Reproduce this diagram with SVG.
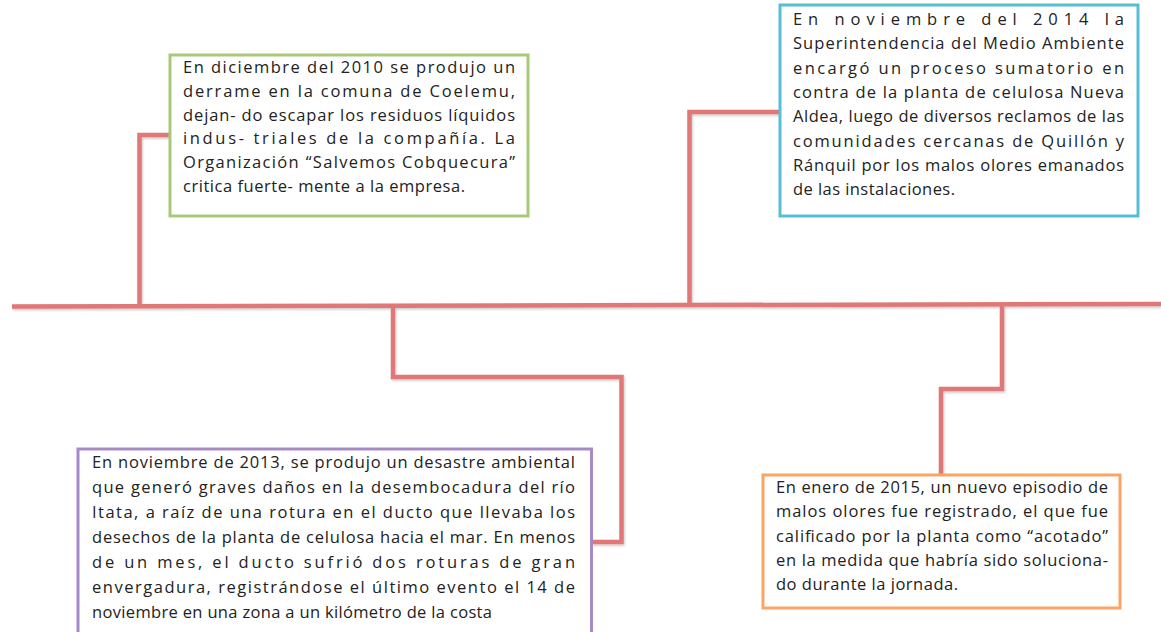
<svg xmlns="http://www.w3.org/2000/svg" width="1161" height="632" viewBox="0 0 1161 632">
<defs>
<filter id="sh" x="-5%" y="-5%" width="110%" height="110%">
<feDropShadow dx="1" dy="1.5" stdDeviation="1" flood-color="#000" flood-opacity="0.22"/>
</filter>
<style>
.ln{fill:none;stroke:#E07878;stroke-width:4.5;stroke-linejoin:miter;stroke-linecap:butt}
.box{fill:#fff;stroke-width:3}
.t{font-family:"Open Sans","Noto Sans","Liberation Sans",sans-serif;font-size:16.5px;fill:#222}
</style>
</defs>
<rect width="1161" height="632" fill="#fff"/>
<g id="connectors" filter="url(#sh)">
<path class="ln" d="M12 306.5 L1161 304"/>
<path class="ln" d="M139.5 306 V135 H170"/>
<path class="ln" d="M689.5 305 V112 H780"/>
<path class="ln" d="M393 305 V377 H621.5 V542 H592"/>
<path class="ln" d="M1002 304.5 V389 H941 V475"/>
</g>
<g id="node-2010">
<rect class="box" x="170" y="55" width="358" height="161" stroke="#A9C97A"/>
<text class="t" x="183" y="73" textLength="332" lengthAdjust="spacing">En diciembre del 2010 se produjo un</text>
<text class="t" x="183" y="96.8" textLength="332" lengthAdjust="spacing">derrame en la comuna de Coelemu,</text>
<text class="t" x="183" y="120.6" textLength="332" lengthAdjust="spacing">dejan- do escapar los residuos líquidos</text>
<text class="t" x="183" y="144.4" textLength="332" lengthAdjust="spacing">indus- triales de la compañía. La</text>
<text class="t" x="183" y="168.2" textLength="332" lengthAdjust="spacing">Organización “Salvemos Cobquecura”</text>
<text class="t" x="183" y="192" textLength="282" lengthAdjust="spacing">critica fuerte- mente a la empresa.</text>
</g>
<g id="node-2014">
<rect class="box" x="780" y="5" width="358" height="211" stroke="#57BED6"/>
<text class="t" x="793" y="25" textLength="331" lengthAdjust="spacing">En noviembre del 2014 la</text>
<text class="t" x="793" y="49.3" textLength="331" lengthAdjust="spacing">Superintendencia del Medio Ambiente</text>
<text class="t" x="793" y="73.6" textLength="331" lengthAdjust="spacing">encargó un proceso sumatorio en</text>
<text class="t" x="793" y="97.9" textLength="331" lengthAdjust="spacing">contra de la planta de celulosa Nueva</text>
<text class="t" x="793" y="122.2" textLength="331" lengthAdjust="spacing">Aldea, luego de diversos reclamos de las</text>
<text class="t" x="793" y="146.5" textLength="331" lengthAdjust="spacing">comunidades cercanas de Quillón y</text>
<text class="t" x="793" y="170.8" textLength="331" lengthAdjust="spacing">Ránquil por los malos olores emanados</text>
<text class="t" x="793" y="195.1" textLength="162" lengthAdjust="spacing">de las instalaciones.</text>
</g>
<g id="node-2013">
<rect class="box" x="78" y="449" width="513.5" height="200" stroke="#A68AC6"/>
<text class="t" x="92" y="467.5" textLength="483" lengthAdjust="spacing">En noviembre de 2013, se produjo un desastre ambiental</text>
<text class="t" x="92" y="492.6" textLength="483" lengthAdjust="spacing">que generó graves daños en la desembocadura del río</text>
<text class="t" x="92" y="517.7" textLength="483" lengthAdjust="spacing">Itata, a raíz de una rotura en el ducto que llevaba los</text>
<text class="t" x="92" y="542.8" textLength="483" lengthAdjust="spacing">desechos de la planta de celulosa hacia el mar. En menos</text>
<text class="t" x="92" y="567.9" textLength="483" lengthAdjust="spacing">de un mes, el ducto sufrió dos roturas de gran</text>
<text class="t" x="92" y="593" textLength="483" lengthAdjust="spacing">envergadura, registrándose el último evento el 14 de</text>
<text class="t" x="92" y="618" textLength="400" lengthAdjust="spacing">noviembre en una zona a un kilómetro de la costa</text>
</g>
<g id="node-2015">
<rect class="box" x="763" y="475" width="357" height="133" stroke="#F8A565"/>
<text class="t" x="776" y="493" textLength="332" lengthAdjust="spacing">En enero de 2015, un nuevo episodio de</text>
<text class="t" x="776" y="517.3" textLength="332" lengthAdjust="spacing">malos olores fue registrado, el que fue</text>
<text class="t" x="776" y="541.6" textLength="332" lengthAdjust="spacing">calificado por la planta como “acotado”</text>
<text class="t" x="776" y="565.9" textLength="332" lengthAdjust="spacing">en la medida que habría sido soluciona-</text>
<text class="t" x="776" y="590.2" textLength="182" lengthAdjust="spacing">do durante la jornada.</text>
</g>
</svg>
